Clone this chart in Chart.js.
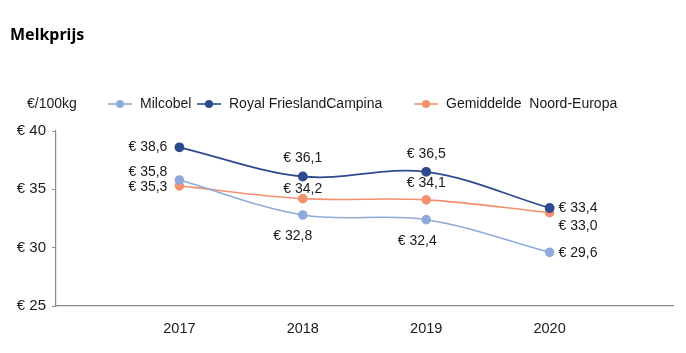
<!DOCTYPE html>
<html>
<head>
<meta charset="utf-8">
<script src="https://cdn.jsdelivr.net/npm/chart.js@4/dist/chart.umd.min.js"></script>
<style>
  html, body { margin: 0; padding: 0; background: #fff; }
  #wrap { position: relative; width: 686px; height: 353px; }
</style>
</head>
<body>
<div id="wrap"><canvas id="melk" width="686" height="353"></canvas></div>
<script>
const years = [2017, 2018, 2019, 2020];
const milcobel = [35.8, 32.8, 32.4, 29.6];
const frieslandCampina = [38.6, 36.1, 36.5, 33.4];
const noordEuropa = [35.3, 34.2, 34.1, 33.0];
const yTicks = [25, 30, 35, 40];

const COLORS = { milcobel: '#8EAADB', rfc: '#2E4A8E', avg: '#F29170' };
const FONT = '"Liberation Sans", Arial, sans-serif';

// where each value label sits relative to its point
const labelSpots = {
  milcobel: [['right', -12, -8], ['center', -10, 21], ['center', -9, 21], ['left', 9, 1]],
  rfc: [['right', -12, 0], ['center', 0, -18], ['center', 0, -18], ['left', 9, 0]],
  avg: [['right', -12, 1], ['center', 0, -10], ['center', 0, -17], ['left', 9, 13]]
};

const fmt = (v) => '€ ' + v.toFixed(1).replace('.', ',');

function series(label, values, color, key) {
  return {
    label,
    key,
    data: years.map((y, i) => ({ x: y, y: values[i] })),
    borderColor: color,
    backgroundColor: color,
    pointBackgroundColor: color,
    pointBorderColor: color,
    pointRadius: 4,
    pointHoverRadius: 4,
    borderWidth: key === 'rfc' ? 1.8 : 1.6,
    tension: 0.35,
    fill: false
  };
}

const valueLabels = {
  id: 'valueLabels',
  afterDatasetsDraw(chart) {
    const ctx = chart.ctx;
    ctx.save();
    ctx.font = '14px ' + FONT;
    ctx.fillStyle = '#1a1a1a';
    ctx.textBaseline = 'middle';
    chart.data.datasets.forEach((ds, di) => {
      const meta = chart.getDatasetMeta(di);
      meta.data.forEach((pt, i) => {
        const [align, dx, dy] = labelSpots[ds.key][i];
        ctx.textAlign = align;
        ctx.fillText(fmt(ds.data[i].y), pt.x + dx, pt.y + dy);
      });
    });
    ctx.restore();
  }
};

const headerAndLegend = {
  id: 'headerAndLegend',
  afterDraw(chart) {
    const ctx = chart.ctx;
    ctx.save();
    ctx.fillStyle = '#000';
    ctx.textBaseline = 'middle';
    ctx.textAlign = 'left';
    ctx.font = 'bold 16px "Noto Sans", ' + FONT;
    ctx.fillText('Melkprijs', 10, 35);

    ctx.font = '14px ' + FONT;
    ctx.fillStyle = '#1a1a1a';
    ctx.fillText('€/100kg', 27, 104);

    const items = [
      { x: 108, text: 'Milcobel', color: COLORS.milcobel },
      { x: 197, text: 'Royal FrieslandCampina', color: COLORS.rfc },
      { x: 414, text: 'Gemiddelde  Noord-Europa', color: COLORS.avg }
    ];
    items.forEach((it) => {
      ctx.strokeStyle = it.color;
      ctx.lineWidth = 1.6;
      ctx.beginPath();
      ctx.moveTo(it.x, 104);
      ctx.lineTo(it.x + 24, 104);
      ctx.stroke();
      ctx.fillStyle = it.color;
      ctx.beginPath();
      ctx.arc(it.x + 12, 104, 4, 0, Math.PI * 2);
      ctx.fill();
      ctx.fillStyle = '#1a1a1a';
      ctx.fillText(it.text, it.x + 32, 104);
    });
    ctx.restore();
  }
};

new Chart(document.getElementById('melk'), {
  type: 'line',
  data: {
    datasets: [
      series('Milcobel', milcobel, COLORS.milcobel, 'milcobel'),
      series('Royal FrieslandCampina', frieslandCampina, COLORS.rfc, 'rfc'),
      series('Gemiddelde  Noord-Europa', noordEuropa, COLORS.avg, 'avg')
    ]
  },
  options: {
    responsive: false,
    animation: false,
    layout: { padding: { top: 131, right: 13, bottom: 0, left: 0 } },
    plugins: { legend: { display: false }, tooltip: { enabled: false }, title: { display: false } },
    scales: {
      x: {
        type: 'linear',
        min: 2016,
        max: 2021,
        afterFit: (s) => { s.height = 47; },
        afterBuildTicks: (s) => { s.ticks = years.map((v) => ({ value: v })); },
        ticks: {
          padding: 6,
          color: '#1a1a1a',
          font: { family: FONT, size: 14.5 },
          callback: (v) => String(v)
        },
        grid: { display: false },
        border: { display: true, color: '#8a8a8a', width: 1.2 }
      },
      y: {
        min: 25,
        max: 40,
        afterFit: (s) => { s.width = 56; },
        afterBuildTicks: (s) => { s.ticks = yTicks.map((v) => ({ value: v })); },
        ticks: {
          padding: 6,
          color: '#1a1a1a',
          font: { family: FONT, size: 15 },
          callback: (v) => '€ ' + v
        },
        grid: { drawOnChartArea: false, drawTicks: true, tickLength: 4, color: '#8a8a8a' },
        border: { display: true, color: '#8a8a8a', width: 1.2 }
      }
    }
  },
  plugins: [valueLabels, headerAndLegend]
});
</script>
</body>
</html>
